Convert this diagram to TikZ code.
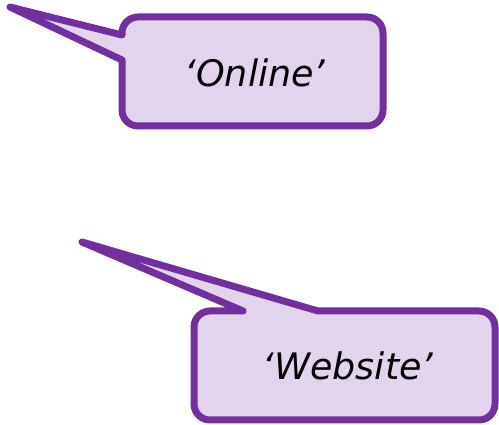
\documentclass[tikz,border=0pt]{standalone}
\usepackage{fontspec}
\newfontfamily\calloutfont{DejaVu Sans}
\usepackage{tikz}
\usetikzlibrary{positioning}

\definecolor{calloutline}{HTML}{7030A0}
\definecolor{calloutfill}{HTML}{E3D4EE}

\begin{document}
\begin{tikzpicture}[
    x=1pt, y=-1pt,
    bubble/.style={draw=calloutline, fill=calloutfill, line width=7pt, line join=round, line cap=round},
    label/.style={font=\calloutfont\itshape\fontsize{36.5}{42}\selectfont, inner sep=0pt}
]
    \useasboundingbox (0,0) rectangle (499,425);

    % Callouts
    \draw[bubble] (122,60) [rounded corners=16pt] -- (122,126) -- (383,126) -- (383,17) -- (122,17) [sharp corners] -- (122,35) -- (10,7) -- cycle;
    \draw[bubble] (318,311) [rounded corners=16pt] -- (495,311) -- (495,420) -- (194,420) -- (194,311) [sharp corners] -- (243,311) -- (82,242) -- cycle;

    % Texts
    \node[label] (online) at (255,73) {‘Online’};
    \node[label] (website) at (348,366) {‘Website’};

\end{tikzpicture}
\end{document}
